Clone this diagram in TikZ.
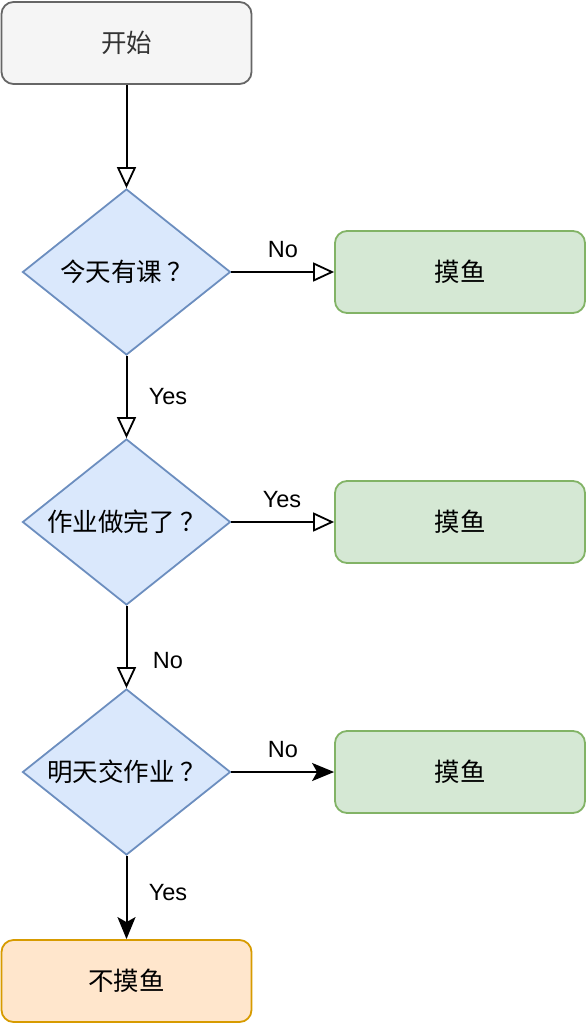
\documentclass[tikz,border=0pt]{standalone}
\usepackage{fontspec}
\setmainfont{Liberation Sans}
\newfontfamily\cjk{Noto Sans CJK SC}
\usetikzlibrary{shapes.geometric,arrows.meta}
\definecolor{startfill}{HTML}{F5F5F5}
\definecolor{startline}{HTML}{666666}
\definecolor{starttext}{HTML}{333333}
\definecolor{qfill}{HTML}{DAE8FC}
\definecolor{qline}{HTML}{6C8EBF}
\definecolor{okfill}{HTML}{D5E8D4}
\definecolor{okline}{HTML}{82B366}
\definecolor{endfill}{HTML}{FFE6CC}
\definecolor{endline}{HTML}{D79B00}
\newcommand{\qmark}{\hspace{0.2em}？}
\tikzset{
  box/.style={rectangle, rounded corners=12pt, minimum width=250pt, minimum height=82pt,
    line width=1.8pt, font=\cjk\fontsize{25.5}{30}\selectfont, inner sep=0pt},
  startbox/.style={box, fill=startfill, draw=startline, text=starttext},
  slackbox/.style={box, fill=okfill, draw=okline},
  workbox/.style={box, fill=endfill, draw=endline},
  question/.style={diamond, aspect=1.25, minimum width=208pt, minimum height=166pt,
    inner sep=0pt, fill=qfill, draw=qline, line width=1.8pt, font=\cjk\fontsize{25.5}{30}\selectfont},
  openflow/.style={line width=2pt, -{Triangle[open, length=21pt, width=19pt, line width=1.8pt]}},
  solidflow/.style={line width=2pt, -{Stealth[length=22pt, width=18pt, inset=5pt]}},
  lbl/.style={font=\fontsize{23.5}{27}\selectfont, inner sep=0pt}
}
\begin{document}
\begin{tikzpicture}[x=1pt, y=-1pt]
\useasboundingbox (0,0) rectangle (587,1024);

\node[startbox] (start) at (126.5,43) {开始};
\node[question] (q1) at (126.5,272) {今天有课\qmark};
\node[question] (q2) at (126.5,522) {作业做完了\qmark};
\node[question] (q3) at (126.5,772) {明天交作业\qmark};
\node[slackbox] (s1) at (460,272) {摸鱼};
\node[slackbox] (s2) at (460,522) {摸鱼};
\node[slackbox] (s3) at (460,772) {摸鱼};
\node[workbox] (stop) at (126.5,981) {不摸鱼};

\draw[openflow] (start.south) -- (q1.north);
\draw[openflow] (q1.east) -- (s1.west);
\draw[openflow] (q1.south) -- (q2.north);
\draw[openflow] (q2.east) -- (s2.west);
\draw[openflow] (q2.south) -- (q3.north);
\draw[solidflow] (q3.east) -- (s3.west);
\draw[solidflow] (q3.south) -- (stop.north);

\node[lbl] (l1) at (283,250) {No};
\node[lbl] (l2) at (168,397) {Yes};
\node[lbl] (l3) at (282,500) {Yes};
\node[lbl] (l4) at (168,661) {No};
\node[lbl] (l5) at (283,750) {No};
\node[lbl] (l6) at (168,893) {Yes};
\end{tikzpicture}
\end{document}
